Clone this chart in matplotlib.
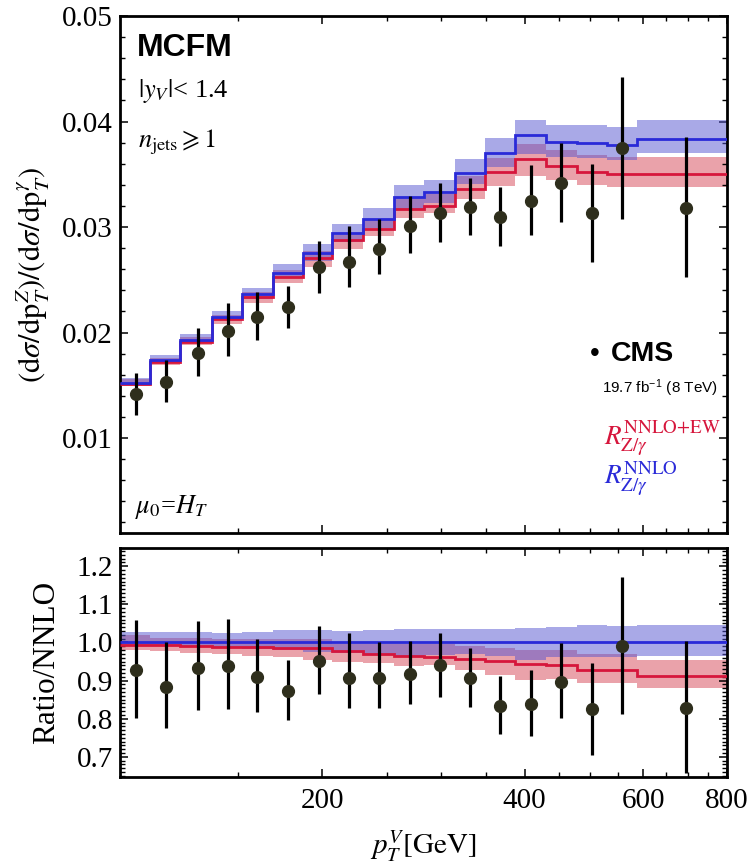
import numpy as np
import matplotlib
matplotlib.use('Agg')
import matplotlib.pyplot as plt
from matplotlib.ticker import FixedLocator, MultipleLocator, FormatStrFormatter, NullFormatter

plt.rcParams['font.family'] = ['Liberation Serif', 'DejaVu Serif']
plt.rcParams['mathtext.fontset'] = 'stix'

# ---------------- data ----------------
edges = [100, 111, 123, 137, 152, 169, 187, 207, 230, 256, 283, 315, 349, 387, 430, 478, 530, 587, 800]

nnlo    = [0.01526, 0.01735, 0.01930, 0.02150, 0.02362, 0.02565, 0.02751, 0.02940, 0.03080,
           0.03285, 0.03330, 0.03515, 0.03706, 0.03868, 0.03809, 0.03797, 0.03778, 0.03834]
nnlo_hi = [0.01568, 0.01784, 0.01983, 0.02204, 0.02425, 0.02646, 0.02839, 0.03028, 0.03177,
           0.03398, 0.03445, 0.03641, 0.03841, 0.04014, 0.03967, 0.03967, 0.03945, 0.04014]
nnlo_lo = [0.01510, 0.01718, 0.01912, 0.02120, 0.02320, 0.02514, 0.02681, 0.02861, 0.02988,
           0.03168, 0.03225, 0.03410, 0.03572, 0.03692, 0.03668, 0.03651, 0.03635, 0.03699]

ew      = [0.01515, 0.01723, 0.01912, 0.02124, 0.02334, 0.02528, 0.02710, 0.02875, 0.02985,
           0.03170, 0.03202, 0.03363, 0.03525, 0.03646, 0.03580, 0.03525, 0.03506, 0.03500]
ew_hi   = [0.01555, 0.01757, 0.01953, 0.02168, 0.02382, 0.02588, 0.02773, 0.02928, 0.03066,
           0.03272, 0.03313, 0.03483, 0.03651, 0.03787, 0.03730, 0.03683, 0.03668, 0.03661]
ew_lo   = [0.01495, 0.01695, 0.01878, 0.02083, 0.02280, 0.02468, 0.02624, 0.02791, 0.02915,
           0.03082, 0.03136, 0.03263, 0.03389, 0.03483, 0.03445, 0.03398, 0.03376, 0.03376]

cms_pt  = [105.8, 117.2, 130.5, 144.6, 160.1, 177.6, 197.5, 218.9, 243.0,
           269.8, 298.9, 331.3, 368.1, 408.3, 453.6, 503.3, 559.0, 695.2]
cms_val = [0.01414, 0.01534, 0.01803, 0.02017, 0.02150, 0.02239, 0.02618, 0.02665, 0.02789,
           0.03012, 0.03130, 0.03187, 0.03092, 0.03243, 0.03414, 0.03130, 0.03746, 0.03177]
cms_lo  = [0.01222, 0.01344, 0.01588, 0.01777, 0.01929, 0.02040, 0.02377, 0.02434, 0.02552,
           0.02756, 0.02855, 0.02921, 0.02820, 0.02921, 0.03050, 0.02671, 0.03073, 0.02523]
cms_hi  = [0.01617, 0.01739, 0.02040, 0.02282, 0.02381, 0.02444, 0.02867, 0.03010, 0.03080,
           0.03297, 0.03414, 0.03462, 0.03382, 0.03588, 0.03799, 0.03594, 0.04425, 0.03850]

# ---------------- styles ----------------
BLUE_LINE = '#2a2ad8'
RED_LINE = '#d6163c'
BLUE_FILL = (0.33, 0.33, 0.82)
RED_FILL = (0.84, 0.28, 0.34)
PT_COLOR = '#2e2e1c'
TICK_FS = 21

W, H = 750, 863
fig = plt.figure(figsize=(W / 100, H / 100), dpi=100)
ax1 = fig.add_axes([120 / W, 1 - 533 / H, 607 / W, 517 / H])
ax2 = fig.add_axes([120 / W, 1 - 777 / H, 607 / W, 229 / H])

nn = np.array(nnlo)

def draw(ax, scale):
    ax.stairs(np.array(ew_hi) / scale, edges, baseline=np.array(ew_lo) / scale, fill=True,
              color=RED_FILL, alpha=0.5, lw=0, zorder=1)
    ax.stairs(np.array(nnlo_hi) / scale, edges, baseline=np.array(nnlo_lo) / scale, fill=True,
              color=BLUE_FILL, alpha=0.5, lw=0, zorder=2)
    ax.stairs(np.array(ew) / scale, edges, baseline=None, color=RED_LINE, lw=2.0, zorder=3)
    ax.stairs(np.array(nnlo) / scale, edges, baseline=None, color=BLUE_LINE, lw=2.0, zorder=4)
    v = np.array(cms_val) / scale
    lo = np.array(cms_lo) / scale
    hi = np.array(cms_hi) / scale
    ax.errorbar(cms_pt, v, yerr=[v - lo, hi - v], fmt='o', color=PT_COLOR, ms=8.5,
                ecolor='black', elinewidth=2.3, capsize=0, zorder=5)

draw(ax1, 1.0)
draw(ax2, nn)

for ax in (ax1, ax2):
    ax.set_xscale('log')
    ax.set_xlim(100, 800)
    for s in ax.spines.values():
        s.set_linewidth(2.0)
    ax.xaxis.set_major_locator(FixedLocator([200, 400, 600, 800]))
    ax.xaxis.set_minor_locator(FixedLocator([150, 250, 300, 350, 450, 500, 550, 650, 700, 750]))
    ax.xaxis.set_minor_formatter(NullFormatter())
    ax.tick_params(which='both', direction='in', top=True, right=True, labelsize=TICK_FS)
    ax.tick_params(which='major', length=6, width=1.1)
    ax.tick_params(which='minor', length=3.5, width=1.0)
    ax.tick_params(axis='y', which='major', pad=5)

ax1.set_ylim(0.001, 0.05)
ax1.yaxis.set_major_locator(MultipleLocator(0.01))
ax1.yaxis.set_minor_locator(MultipleLocator(0.002))
ax1.yaxis.set_major_formatter(FormatStrFormatter('%.2f'))
ax1.tick_params(axis='x', labelbottom=False)
ax1.set_ylabel(r'$(\mathrm{d}\sigma/\mathrm{dp}_T^Z)/(\mathrm{d}\sigma/\mathrm{dp}_T^\gamma)$',
               fontsize=22)
ax1.yaxis.set_label_coords(-0.112, 0.5)

ax2.set_ylim(0.647, 1.248)
ax2.yaxis.set_major_locator(FixedLocator([0.7, 0.8, 0.9, 1.0, 1.1, 1.2]))
ax2.yaxis.set_minor_locator(MultipleLocator(0.01))
ax2.yaxis.set_major_formatter(FormatStrFormatter('%.1f'))
ax2.xaxis.set_major_formatter(FormatStrFormatter('%d'))
ax2.tick_params(axis='x', which='major', pad=8)
ax2.set_ylabel('Ratio/NNLO', fontsize=22.5)
ax2.yaxis.set_label_coords(-0.097, 0.5)
ax2.set_xlabel(r'$p_T^V[\mathrm{GeV}]$', fontsize=21, labelpad=10)

# ---------------- annotations ----------------
def ftext(x, y, s, **kw):
    fig.text(x / W, 1 - y / H, s, **kw)

ftext(137, 48, 'MCFM', fontsize=23, fontweight='bold', family='Liberation Sans', va='center')
ftext(138, 91, r'$|y_V|$< 1.4', fontsize=19, va='center')
ftext(138, 142, r'$n_{\mathrm{jets}} \geqslant 1$', fontsize=19, va='center')
ftext(135, 507, r'$\mu_0$=$H_T$', fontsize=19, va='center')

ftext(595, 354, '\u2022', fontsize=20, family='Liberation Sans', va='center', ha='center')
ftext(611, 354, 'CMS', fontsize=20.5, fontweight='bold', family='Liberation Sans', va='center')
ftext(602, 388, r'19.7 fb$^{\mathregular{-1}}$ (8 TeV)', fontsize=11, family='Liberation Sans',
      va='center')
ftext(604, 438, r'$R_{\mathrm{Z}/\gamma}^{\mathrm{NNLO{+}EW}}$', fontsize=19.5, color=RED_LINE,
      va='center')
ftext(604, 478, r'$R_{\mathrm{Z}/\gamma}^{\mathrm{NNLO}}$', fontsize=19.5, color=BLUE_LINE,
      va='center')

fig.savefig('out.png', dpi=100)
